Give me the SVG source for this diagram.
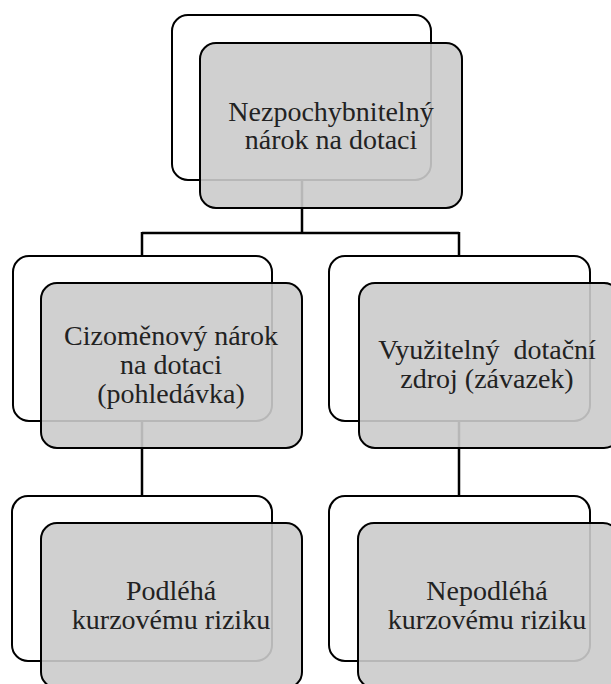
<svg xmlns="http://www.w3.org/2000/svg" width="611" height="684" viewBox="0 0 611 684">
<style>
.bg{fill:#fff;stroke:#000;stroke-width:2}
.fg{fill:#cbcbcb;fill-opacity:0.9;stroke:#000;stroke-width:2}
.t{font-family:"Liberation Serif","Times New Roman",Tinos,"Noto Serif","DejaVu Serif",Times,serif;font-size:28px;fill:#222;text-anchor:middle}
.c{fill:none;stroke:#000;stroke-width:2.5}
</style>
<rect width="611" height="684" fill="#fff"/>
<g id="connectors">
<path class="c" d="M302,180V233M142,233H459M142,232V256M459,232V256M142,421V496M459,421V496"/>
</g>
<g id="n-top">
<rect class="bg" x="172" y="15" width="259" height="165" rx="16"/>
<rect class="fg" x="200" y="43" width="262" height="165" rx="16"/>
<text class="t" x="331" y="121">Nezpochybnitelný</text>
<text class="t" x="331" y="149">nárok na dotaci</text>
</g>
<g id="n-left">
<rect class="bg" x="13" y="256" width="259" height="165" rx="16"/>
<rect class="fg" x="41" y="283" width="261" height="165" rx="16"/>
<text class="t" x="171" y="345">Cizoměnový nárok</text>
<text class="t" x="171" y="374">na dotaci</text>
<text class="t" x="171" y="403">(pohledávka)</text>
</g>
<g id="n-right">
<rect class="bg" x="329" y="256" width="261" height="165" rx="16"/>
<rect class="fg" x="359" y="283" width="261" height="165" rx="16"/>
<text class="t" x="487" y="359" xml:space="preserve">Využitelný  dotační</text>
<text class="t" x="487" y="388">zdroj (závazek)</text>
</g>
<g id="n-bl">
<rect class="bg" x="12" y="496" width="260" height="165" rx="16"/>
<rect class="fg" x="41" y="523" width="261" height="165" rx="16"/>
<text class="t" x="171" y="600">Podléhá</text>
<text class="t" x="171" y="629">kurzovému riziku</text>
</g>
<g id="n-br">
<rect class="bg" x="329" y="496" width="261" height="165" rx="16"/>
<rect class="fg" x="358" y="523" width="261" height="165" rx="16"/>
<text class="t" x="487" y="600">Nepodléhá</text>
<text class="t" x="487" y="629">kurzovému riziku</text>
</g>
</svg>
